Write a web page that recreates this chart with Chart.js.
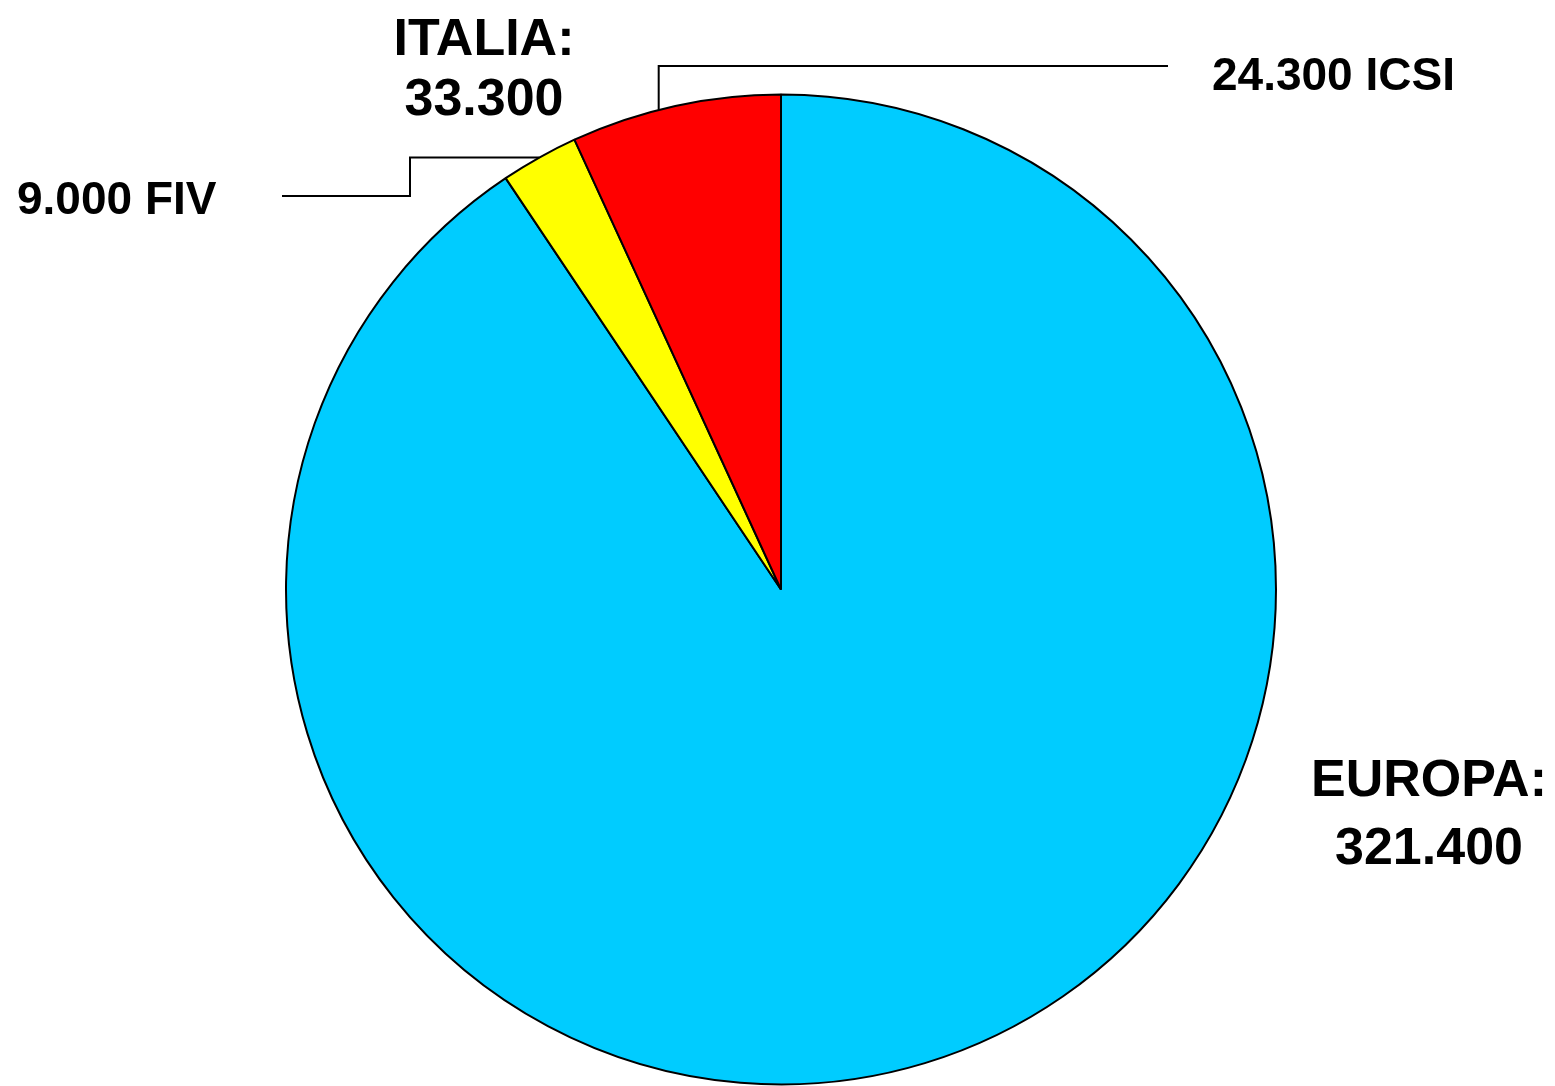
<!DOCTYPE html>
<html>
<head>
<meta charset="utf-8">
<script src="https://cdn.jsdelivr.net/npm/chart.js@4"></script>
<style>
  body { margin: 0; background: #fff; }
  canvas { display: block; }
</style>
</head>
<body>
<canvas id="pie" width="1555" height="1086"></canvas>
<script>
// data (clockwise from 12 o'clock)
const categories = ['EUROPA', 'FIV', 'ICSI'];
const values = [321400, 9000, 24300];
const colors = ['#00ccff', '#ffff00', '#ff0000'];
const italiaTotal = 33300;

const fmt = v => v.toLocaleString('it-IT');
const FONT = 'bold 52px "Liberation Sans", Arial, sans-serif';
const FONT_SMALL = 'bold 46px "Liberation Sans", Arial, sans-serif';

// point on the outer edge of a slice, t = 0..1 from start to end angle
function edgePoint(arc, t) {
  const a = arc.startAngle + (arc.endAngle - arc.startAngle) * t;
  return { x: arc.x + Math.cos(a) * arc.outerRadius, y: arc.y + Math.sin(a) * arc.outerRadius };
}

const labelsPlugin = {
  id: 'labels',
  afterDraw(chart) {
    const ctx = chart.ctx;
    const arcs = chart.getDatasetMeta(0).data;
    ctx.save();
    ctx.strokeStyle = '#000';
    ctx.lineWidth = 2;
    ctx.fillStyle = '#000';

    // ICSI leader
    const p2 = edgePoint(arcs[2], 0.42);
    ctx.beginPath();
    ctx.moveTo(p2.x, p2.y);
    ctx.lineTo(p2.x, 66);
    ctx.lineTo(1168, 66);
    ctx.stroke();

    // FIV leader
    const p1 = edgePoint(arcs[1], 0.5);
    ctx.beginPath();
    ctx.moveTo(p1.x, p1.y);
    ctx.lineTo(410, p1.y);
    ctx.lineTo(410, 196);
    ctx.lineTo(282, 196);
    ctx.stroke();

    ctx.textBaseline = 'alphabetic';
    ctx.font = FONT_SMALL;
    ctx.textAlign = 'left';
    ctx.fillText(fmt(values[2]) + ' ' + categories[2], 1212, 90);
    ctx.fillText(fmt(values[1]) + ' ' + categories[1], 17, 214);

    ctx.font = FONT;
    ctx.textAlign = 'center';
    ctx.fillText('ITALIA:', 484, 55);
    ctx.fillText(fmt(italiaTotal), 484, 115);
    ctx.fillText(categories[0] + ':', 1429, 796);
    ctx.fillText(fmt(values[0]), 1429, 864);
    ctx.restore();
  }
};

new Chart(document.getElementById('pie'), {
  type: 'pie',
  data: {
    labels: categories,
    datasets: [{
      data: values,
      backgroundColor: colors,
      borderColor: '#000',
      borderWidth: 2
    }]
  },
  options: {
    responsive: false,
    animation: false,
    layout: { padding: { left: 285, right: 278, top: 93, bottom: 0 } },
    plugins: {
      legend: { display: false },
      tooltip: { enabled: false }
    }
  },
  plugins: [labelsPlugin]
});
</script>
</body>
</html>
